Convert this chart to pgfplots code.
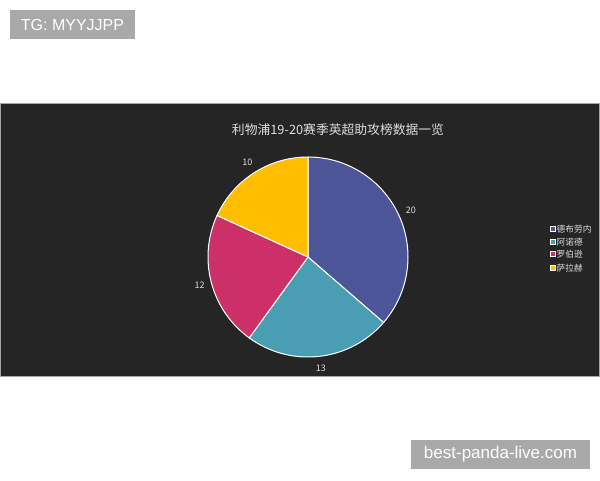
\documentclass[border=0pt]{standalone}
\usepackage{pgfplots}
\usepackage{pgfplotstable}
\pgfplotsset{compat=1.18}
\usetikzlibrary{calc}
\usepackage{fontspec}
\setmainfont{Liberation Sans}
\newfontfamily\cjk{Noto Sans CJK SC}
\definecolor{cA}{HTML}{4B5598}
\definecolor{cB}{HTML}{4A9EB3}
\definecolor{cC}{HTML}{CC3066}
\definecolor{cD}{HTML}{FFBF00}
\definecolor{panel}{HTML}{252525}
\definecolor{wm}{HTML}{A9A9A9}
\definecolor{txt}{HTML}{DDDDDD}
\pgfplotstableread{
name value
德布劳内 20
阿诺德 13
罗伯逊 12
萨拉赫 10
}\assists
\begin{document}
\begin{tikzpicture}
\pgfplotstablegetelem{0}{value}\of\assists \let\vA\pgfplotsretval
\pgfplotstablegetelem{1}{value}\of\assists \let\vB\pgfplotsretval
\pgfplotstablegetelem{2}{value}\of\assists \let\vC\pgfplotsretval
\pgfplotstablegetelem{3}{value}\of\assists \let\vD\pgfplotsretval
\pgfmathsetmacro\tot{\vA+\vB+\vC+\vD}
\pgfmathsetmacro\aA{90}
\pgfmathsetmacro\aB{\aA-360*\vA/\tot}
\pgfmathsetmacro\aC{\aB-360*\vB/\tot}
\pgfmathsetmacro\aD{\aC-360*\vC/\tot}
\pgfmathsetmacro\aE{\aD-360*\vD/\tot}
\pgfmathsetmacro\mA{(\aA+\aB)/2}
\pgfmathsetmacro\mB{(\aB+\aC)/2}
\pgfmathsetmacro\mC{(\aC+\aD)/2}
\pgfmathsetmacro\mD{(\aD+\aE)/2}
\begin{axis}[width=600pt,height=480pt,scale only axis,hide axis,clip=false,
  xmin=0,xmax=600,ymin=0,ymax=480]
% background
\fill[white] (axis cs:0,0) rectangle (axis cs:600,480);
% watermark boxes
\fill[wm] (axis cs:10,441) rectangle (axis cs:135,470);
\node[white,font=\fontsize{16}{18}\selectfont] at (axis cs:72.5,455.5) {TG: MYYJJPP};
\fill[wm] (axis cs:411,11) rectangle (axis cs:590,40);
\node[white,font=\fontsize{17}{18}\selectfont] at (axis cs:500.5,25.5) {best-panda-live.com};
% panel
\fill[panel,draw=gray!70,line width=1pt] (axis cs:0.5,103.5) rectangle (axis cs:599.5,376.5);
\node[txt,font=\cjk\fontsize{12.8}{15}\selectfont] at (axis cs:338,350) {利物浦19-20赛季英超助攻榜数据一览};
% pie
\def\cx{308}\def\cy{223}
\fill[cA,draw=white,line width=1pt] (axis cs:\cx,\cy) -- ++(\aA:100pt) arc[start angle=\aA,end angle=\aB,radius=100pt] -- cycle;
\fill[cB,draw=white,line width=1pt] (axis cs:\cx,\cy) -- ++(\aB:100pt) arc[start angle=\aB,end angle=\aC,radius=100pt] -- cycle;
\fill[cC,draw=white,line width=1pt] (axis cs:\cx,\cy) -- ++(\aC:100pt) arc[start angle=\aC,end angle=\aD,radius=100pt] -- cycle;
\fill[cD,draw=white,line width=1pt] (axis cs:\cx,\cy) -- ++(\aD:100pt) arc[start angle=\aD,end angle=\aE,radius=100pt] -- cycle;
\node[txt,font=\cjk\fontsize{9}{10}\selectfont] at ($(axis cs:\cx,\cy)+(\mA:113pt)$) {\vA};
\node[txt,font=\cjk\fontsize{9}{10}\selectfont] at ($(axis cs:\cx,\cy)+(\mB:112pt)$) {\vB};
\node[txt,font=\cjk\fontsize{9}{10}\selectfont] at ($(axis cs:\cx,\cy)+(\mC:112pt)$) {\vC};
\node[txt,font=\cjk\fontsize{9}{10}\selectfont] at ($(axis cs:\cx,\cy)+(\mD:112pt)$) {\vD};
% legend
\fill[cA,draw=white,line width=0.7pt] (axis cs:550,248.5) rectangle (axis cs:555,253.5);
\node[txt,anchor=west,inner sep=0pt,font=\cjk\fontsize{8.7}{10}\selectfont] at (axis cs:556.5,251) {德布劳内};
\fill[cB,draw=white,line width=0.7pt] (axis cs:550,235.5) rectangle (axis cs:555,240.5);
\node[txt,anchor=west,inner sep=0pt,font=\cjk\fontsize{8.7}{10}\selectfont] at (axis cs:556.5,238) {阿诺德};
\fill[cC,draw=white,line width=0.7pt] (axis cs:550,223.5) rectangle (axis cs:555,228.5);
\node[txt,anchor=west,inner sep=0pt,font=\cjk\fontsize{8.7}{10}\selectfont] at (axis cs:556.5,226) {罗伯逊};
\fill[cD,draw=white,line width=0.7pt] (axis cs:550,209.5) rectangle (axis cs:555,214.5);
\node[txt,anchor=west,inner sep=0pt,font=\cjk\fontsize{8.7}{10}\selectfont] at (axis cs:556.5,212) {萨拉赫};
\end{axis}
\pgfresetboundingbox
\path[use as bounding box] (current axis.south west) rectangle (current axis.north east);
\end{tikzpicture}
\end{document}
